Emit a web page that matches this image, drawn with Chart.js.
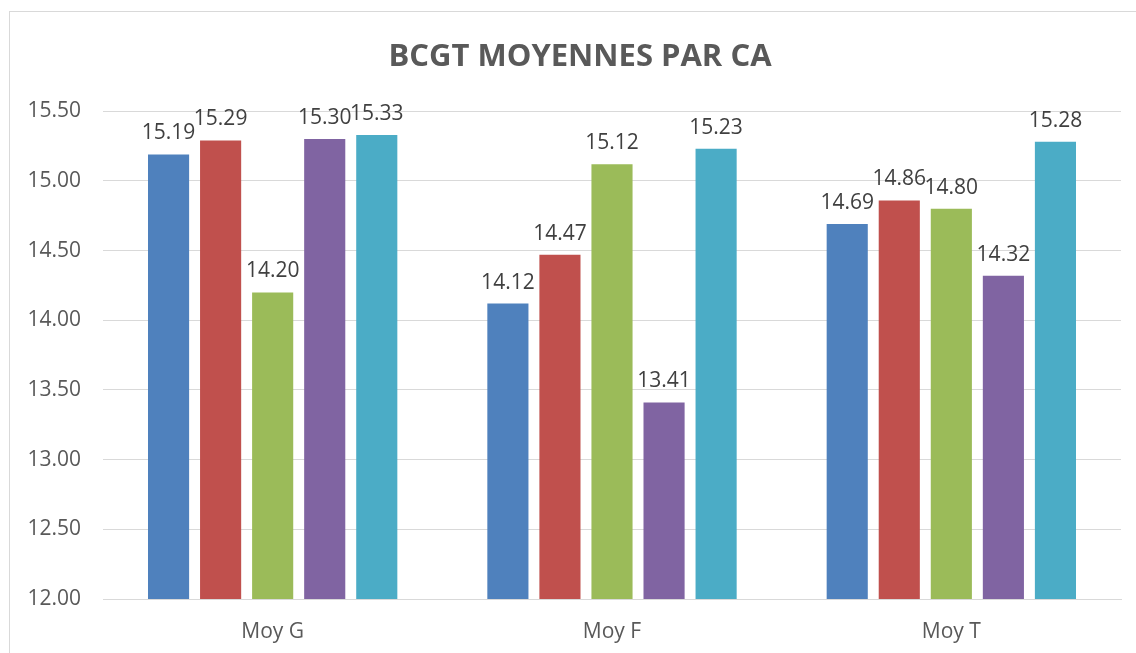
<!DOCTYPE html>
<html><head><meta charset="utf-8">
<script src="https://cdn.jsdelivr.net/npm/chart.js@4/dist/chart.umd.min.js"></script>
<style>
html,body{margin:0;padding:0;background:#fff;overflow:hidden}
#frame{position:absolute;left:9px;top:11px;width:1200px;height:700px;border:1px solid #d9d9d9;box-sizing:border-box}
#wrap{position:absolute;left:0;top:0;width:1136px;height:653px}
</style></head><body>
<div id="frame"></div>
<div id="wrap"><canvas id="c" width="1136" height="653"></canvas></div>
<script>
const categories = ["Moy G", "Moy F", "Moy T"];
const series1 = [15.19, 14.12, 14.69];
const series2 = [15.29, 14.47, 14.86];
const series3 = [14.20, 15.12, 14.80];
const series4 = [15.30, 13.41, 14.32];
const series5 = [15.33, 15.23, 15.28];
const yMin = 12, yMax = 15.5, yStep = 0.5;
const titleText = "BCGT MOYENNES PAR CA";

const colors = ["#4F81BD", "#C0504D", "#9BBB59", "#8064A2", "#4BACC6"];
const FONT = "'Open Sans', sans-serif";

const labelPlugin = {
  id: 'vlabels',
  afterLayout(chart) {
    const t = chart.titleBlock;
    if (t) { t.left = 39; t.right = 1121; }
  },
  afterDatasetsDraw(chart) {
    const ctx = chart.ctx;
    ctx.save();
    ctx.font = "21px " + FONT;
    ctx.fillStyle = "#404040";
    ctx.textAlign = "center";
    ctx.textBaseline = "alphabetic";
    chart.data.datasets.forEach((ds, i) => {
      chart.getDatasetMeta(i).data.forEach((bar, j) => {
        ctx.fillText(ds.data[j].toFixed(2), bar.x, bar.y - 15);
      });
    });
    ctx.restore();
  }
};

const sets = [series1, series2, series3, series4, series5];
new Chart(document.getElementById('c'), {
  type: 'bar',
  data: {
    labels: categories,
    datasets: sets.map((d, i) => ({
      label: "S" + (i + 1),
      data: d,
      backgroundColor: colors[i],
      borderWidth: 0,
      barPercentage: 0.79,
      categoryPercentage: 0.767
    }))
  },
  options: {
    responsive: false,
    animation: false,
    devicePixelRatio: 1,
    layout: { padding: { left: 0, right: 15, top: 39, bottom: 0 } },
    plugins: {
      legend: { display: false },
      tooltip: { enabled: false },
      title: {
        display: true,
        text: titleText,
        color: "#595959",
        font: { family: FONT, size: 31, weight: 'bold' },
        padding: { top: 0, bottom: 35 }
      }
    },
    scales: {
      x: {
        grid: { display: false },
        border: { color: "#d9d9d9", width: 1 },
        ticks: { color: "#595959", font: { family: FONT, size: 21 }, padding: 12 },
        afterFit(s) { s.height = 54; }
      },
      y: {
        min: yMin, max: yMax,
        ticks: { stepSize: yStep, color: "#595959", font: { family: FONT, size: 21 }, padding: 22,
          callback: v => v.toFixed(2) },
        grid: { color: "#d9d9d9", lineWidth: 1, drawTicks: false },
        border: { display: false },
        afterFit(s) { s.width = 103; }
      }
    }
  },
  plugins: [labelPlugin]
});
</script>
</body></html>
